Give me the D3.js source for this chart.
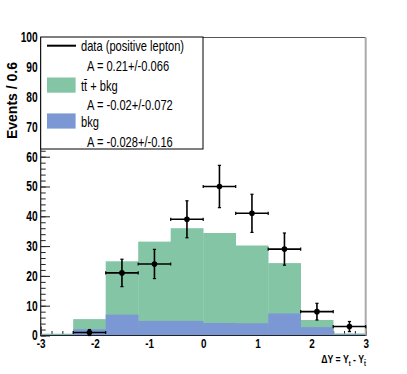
<!DOCTYPE html>
<html>
<head>
<meta charset="utf-8">
<script src="https://cdn.jsdelivr.net/npm/d3@7"></script>
<style>
  body { margin: 0; background: #fff; }
  text { font-family: "Liberation Sans", Arial, Helvetica, sans-serif; }
</style>
</head>
<body>
<svg width="407" height="374"></svg>
<script>
// Bin edges in Delta Y (width 0.6)
var binEdges = [-3, -2.4, -1.8, -1.2, -0.6, 0, 0.6, 1.2, 1.8, 2.4, 3];
// Stacked expectation: ttbar + bkg (total) and bkg alone
var ttbarPlusBkg = [0.6, 5.5, 24.9, 31.5, 36.0, 34.4, 30.2, 24.3, 5.2, 0.7];
var bkgOnly = [0.3, 2.1, 7.0, 4.9, 4.9, 4.2, 4.1, 7.4, 2.8, 0.4];
// Data (positive lepton)
var dataCounts = [0, 1, 21, 24, 39, 50, 41, 29, 8, 3];
var dataErrors = [0, 1.0, 4.6, 4.9, 6.2, 7.1, 6.4, 5.4, 2.8, 1.7];
// Axis ticks
var xTickValues = [-3, -2, -1, 0, 1, 2, 3];
var yTickValues = [0, 10, 20, 30, 40, 50, 60, 70, 80, 90, 100];
// Legend
var legendRows = [
  { label: "data (positive lepton)", asym: "A = 0.21+/-0.066", kind: "line" },
  { label: "tt\u0304 + bkg", asym: "A = -0.02+/-0.072", kind: "box", color: "#84c5a5" },
  { label: "bkg", asym: "A = -0.028+/-0.16", kind: "box", color: "#7b98d4" }
];

var svg = d3.select("svg");
var green = "#84c5a5", blue = "#7b98d4";

var x = d3.scaleLinear().domain([-3, 3]).range([40.7, 365.7]);
var y = d3.scaleLinear().domain([0, 100]).range([335.5, 37.5]);

// squeeze text horizontally (ROOT's narrow Helvetica look)
function squeeze(sel, k) {
  sel.each(function() {
    var w = this.getComputedTextLength();
    d3.select(this).attr("textLength", w * k).attr("lengthAdjust", "spacingAndGlyphs");
  });
}

// frame background
svg.append("rect").attr("x", x(-3)).attr("y", y(100))
  .attr("width", x(3) - x(-3)).attr("height", y(0) - y(100)).attr("fill", "#fff");

// minor ticks (drawn below the histograms)
svg.append("g").attr("transform", "translate(" + x(-3) + ",0)")
  .call(d3.axisLeft(y).ticks(50).tickSize(-5).tickFormat(""))
  .call(function(g) { g.select(".domain").remove(); g.selectAll("line").attr("stroke", "#222"); });
svg.append("g").attr("transform", "translate(0," + y(0) + ")")
  .call(d3.axisBottom(x).ticks(30).tickSize(-4.5).tickFormat(""))
  .call(function(g) { g.select(".domain").remove(); g.selectAll("line").attr("stroke", "#222"); });

// major ticks + labels
var yAxis = svg.append("g").attr("transform", "translate(" + x(-3) + ",0)")
  .call(d3.axisLeft(y).tickValues(yTickValues).tickSize(-9.3).tickPadding(3).tickFormat(d3.format("d")))
  .call(function(g) { g.select(".domain").remove(); g.selectAll("line").attr("stroke", "#222"); });
yAxis.selectAll("text").attr("font-size", 14).attr("font-weight", "bold")
  .attr("fill", "#000").style("font-family", "'Liberation Sans', Arial, sans-serif");
squeeze(yAxis.selectAll("text"), 0.73);

var xAxis = svg.append("g").attr("transform", "translate(0," + y(0) + ")")
  .call(d3.axisBottom(x).tickValues(xTickValues).tickSize(-9).tickPadding(3)
    .tickFormat(function(d) { return String(d); }))
  .call(function(g) { g.select(".domain").remove(); g.selectAll("line").attr("stroke", "#222"); });
xAxis.selectAll("text").attr("font-size", 13).attr("font-weight", "bold")
  .attr("fill", "#000").style("font-family", "'Liberation Sans', Arial, sans-serif");
squeeze(xAxis.selectAll("text"), 0.76);

// stacked histograms
var bins = ttbarPlusBkg.map(function(v, i) {
  return { lo: binEdges[i], hi: binEdges[i + 1], total: v, bkg: bkgOnly[i], n: dataCounts[i], err: dataErrors[i] };
});

svg.append("g").selectAll("rect").data(bins).enter().append("rect")
  .attr("x", function(d) { return x(d.lo); })
  .attr("width", function(d) { return x(d.hi) - x(d.lo) + 0.3; })
  .attr("y", function(d) { return y(d.total); })
  .attr("height", function(d) { return y(0) - y(d.total); })
  .attr("fill", green);

svg.append("g").selectAll("rect").data(bins).enter().append("rect")
  .attr("x", function(d) { return x(d.lo); })
  .attr("width", function(d) { return x(d.hi) - x(d.lo) + 0.3; })
  .attr("y", function(d) { return y(d.bkg); })
  .attr("height", function(d) { return y(0) - y(d.bkg); })
  .attr("fill", blue);

// frame lines
svg.append("line").attr("x1", x(-3)).attr("x2", x(3)).attr("y1", y(100)).attr("y2", y(100))
  .attr("stroke", "#555").attr("stroke-width", 1);
svg.append("line").attr("x1", x(3)).attr("x2", x(3)).attr("y1", y(100)).attr("y2", y(0))
  .attr("stroke", "#aaa").attr("stroke-width", 2);
svg.append("line").attr("x1", x(-3)).attr("x2", x(-3)).attr("y1", y(100)).attr("y2", y(0) + 0.5)
  .attr("stroke", "#222").attr("stroke-width", 1.2);
svg.append("line").attr("x1", x(-3)).attr("x2", x(3)).attr("y1", y(0)).attr("y2", y(0))
  .attr("stroke", "#222").attr("stroke-width", 1.2);

// data points with error bars
var pts = svg.append("g").selectAll("g").data(bins.filter(function(d) { return d.n > 0; }))
  .enter().append("g");
var cap = 1.6;
pts.append("line")
  .attr("x1", function(d) { return x(d.lo); }).attr("x2", function(d) { return x(d.hi); })
  .attr("y1", function(d) { return y(d.n); }).attr("y2", function(d) { return y(d.n); })
  .attr("stroke", "#000").attr("stroke-width", 1.6);
pts.append("line")
  .attr("x1", function(d) { return x((d.lo + d.hi) / 2); }).attr("x2", function(d) { return x((d.lo + d.hi) / 2); })
  .attr("y1", function(d) { return y(d.n - d.err); }).attr("y2", function(d) { return y(d.n + d.err); })
  .attr("stroke", "#000").attr("stroke-width", 1.6);
// small end caps
pts.each(function(d) {
  var g = d3.select(this), cx = x((d.lo + d.hi) / 2), cy = y(d.n);
  [y(d.n - d.err), y(d.n + d.err)].forEach(function(yy) {
    g.append("line").attr("x1", cx - cap).attr("x2", cx + cap).attr("y1", yy).attr("y2", yy)
      .attr("stroke", "#000").attr("stroke-width", 1.2);
  });
  [x(d.lo), x(d.hi)].forEach(function(xx) {
    g.append("line").attr("x1", xx).attr("x2", xx).attr("y1", cy - cap).attr("y2", cy + cap)
      .attr("stroke", "#000").attr("stroke-width", 1.2);
  });
});
pts.append("circle")
  .attr("cx", function(d) { return x((d.lo + d.hi) / 2); })
  .attr("cy", function(d) { return y(d.n); })
  .attr("r", 2.8).attr("fill", "#000");

// legend
var leg = svg.append("g");
leg.append("rect").attr("x", 40.7).attr("y", 37).attr("width", 162.3).attr("height", 112)
  .attr("fill", "#fff").attr("stroke", "#000").attr("stroke-width", 1);

var rowCenter = [45.7, 85.3, 121.2];
var asymBase = [70.7, 109.5, 147];
legendRows.forEach(function(r, i) {
  var cy = rowCenter[i];
  if (r.kind === "line") {
    leg.append("line").attr("x1", 47).attr("x2", 76).attr("y1", cy).attr("y2", cy)
      .attr("stroke", "#000").attr("stroke-width", 2);
  } else {
    leg.append("rect").attr("x", 47).attr("y", cy - 7.8).attr("width", 28.6).attr("height", 15.2)
      .attr("fill", r.color);
  }
  var t1 = leg.append("text").attr("x", 81).attr("y", cy + 5.6)
    .attr("font-size", 15).attr("fill", "#000").text(r.label);
  var t2 = leg.append("text").attr("x", 87).attr("y", asymBase[i])
    .attr("font-size", 15).attr("fill", "#000").text(r.asym);
  squeeze(t1, 0.74);
  squeeze(t2, 0.74);
});

// y axis title
svg.append("text")
  .attr("transform", "translate(17,62) rotate(-90)")
  .attr("text-anchor", "end")
  .attr("font-size", 14).attr("font-weight", "bold").attr("fill", "#000")
  .text("Events / 0.6");

// x axis title: ΔY = Y_t - Y_tbar (narrowed with a horizontal scale)
var xt = svg.append("text").attr("transform", "translate(366,363) scale(0.76,1)")
  .attr("text-anchor", "end")
  .attr("font-size", 11.5).attr("font-weight", "bold").attr("fill", "#000");
xt.append("tspan").text("\u0394Y = Y");
xt.append("tspan").attr("font-size", 7.5).attr("dy", 3).text("t");
xt.append("tspan").attr("dy", -3).text(" - Y");
xt.append("tspan").attr("font-size", 7.5).attr("dy", 3).text("t\u0304");
</script>
</body>
</html>
